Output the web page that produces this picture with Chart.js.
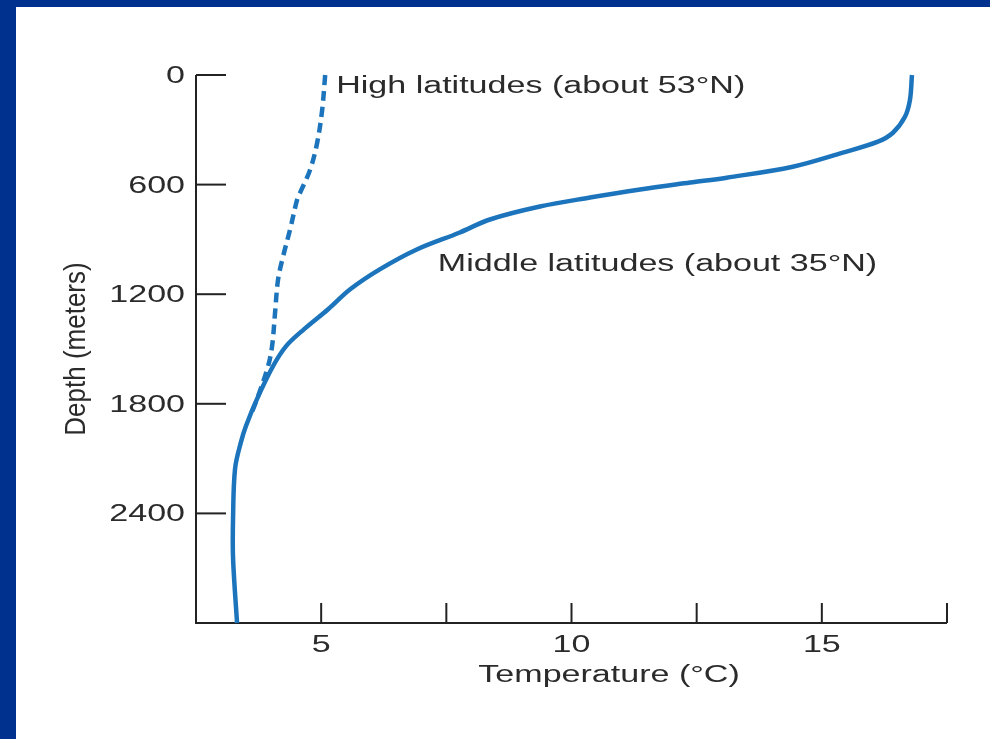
<!DOCTYPE html>
<html>
<head>
<meta charset="utf-8">
<script src="https://cdn.jsdelivr.net/npm/chart.js@4.4.1/dist/chart.umd.min.js"></script>
<style>
  html, body { margin: 0; padding: 0; background: #01318f; overflow: hidden; }
  #wrap { position: absolute; left: 16px; top: 7px; width: 974px; height: 732px; background: #fff; }
</style>
</head>
<body>
<div id="wrap"><canvas id="chart" width="974" height="732"></canvas></div>
<script>
// depth in meters, temperature in °C
const middleTemp  = [16.80, 16.76, 16.66, 16.42, 16.12, 15.42, 14.42, 13.10, 12.37, 11.37, 10.37, 9.37, 8.37, 7.77, 6.91, 6.17, 5.58, 5.14, 4.66, 4.30, 4.04, 3.72, 3.50, 3.40, 3.28, 3.24, 3.24, 3.32];
const middleDepth = [0, 136, 229, 316, 365, 425, 502, 562, 589, 627, 671, 720, 791, 862, 955, 1064, 1173, 1282, 1391, 1484, 1593, 1773, 1920, 2007, 2155, 2427, 2645, 3000];

const highTemp  = [5.08, 5.02, 4.92, 4.78, 4.58, 4.52, 4.38, 4.24, 4.14, 4.08, 4.02, 3.94, 3.72, 3.58];
const highDepth = [0, 191, 371, 518, 644, 682, 845, 993, 1118, 1298, 1484, 1593, 1773, 1871];

const depthTicks = [0, 600, 1200, 1800, 2400];
const tempTicks = [2.5, 5, 7.5, 10, 12.5, 15, 17.5];
const tempLabels = [5, 10, 15];

const labelHigh = 'High latitudes (about 53°N)';
const labelMiddle = 'Middle latitudes (about 35°N)';
const xTitle = 'Temperature (°C)';
const yTitle = 'Depth (meters)';

const lineColor = '#1c75bc';
const inkColor = '#2b2b2b';
const FONT = 'Liberation Sans, Arial, sans-serif';
const SX = 1.48; // the source figure is stretched sideways

function toPoints(xs, ys) {
    return xs.map((x, i) => ({ x: x, y: ys[i] }));
}

function wideText(ctx, text, x, y, align) {
    ctx.save();
    ctx.translate(x, y);
    ctx.scale(SX, 1);
    ctx.textAlign = align;
    ctx.textBaseline = 'alphabetic';
    ctx.fillText(text, 0, 0);
    ctx.restore();
}

const axesPlugin = {
    id: 'oldAxes',
    beforeDatasetsDraw(chart) {
        const ctx = chart.ctx;
        const xs = chart.scales.x;
        const ys = chart.scales.y;
        const top = ys.getPixelForValue(0);
        const bottom = ys.bottom;
        ctx.save();
        ctx.strokeStyle = '#222';
        ctx.lineWidth = 2;
        ctx.beginPath();
        ctx.moveTo(xs.left, top);
        ctx.lineTo(xs.left, bottom);
        ctx.lineTo(xs.right, bottom);
        ctx.stroke();
        // y ticks point inward
        ys.ticks.forEach(t => {
            const y = ys.getPixelForValue(t.value);
            ctx.beginPath();
            ctx.moveTo(xs.left, y);
            ctx.lineTo(xs.left + 30, y);
            ctx.stroke();
        });
        // x ticks point upward
        xs.ticks.forEach(t => {
            if (t.value === xs.min) return;
            const x = xs.getPixelForValue(t.value);
            ctx.beginPath();
            ctx.moveTo(x, bottom);
            ctx.lineTo(x, bottom - 20);
            ctx.stroke();
        });
        ctx.restore();
    },
    afterDraw(chart) {
        const ctx = chart.ctx;
        const xs = chart.scales.x;
        const ys = chart.scales.y;
        ctx.save();
        ctx.fillStyle = inkColor;
        ctx.font = '23px ' + FONT;

        ys.ticks.forEach(t => {
            wideText(ctx, String(t.value), xs.left - 11, ys.getPixelForValue(t.value) + 8, 'right');
        });
        xs.ticks.forEach(t => {
            if (tempLabels.includes(t.value)) {
                wideText(ctx, String(t.value), xs.getPixelForValue(t.value), ys.bottom + 29, 'center');
            }
        });

        wideText(ctx, xTitle, xs.getPixelForValue(10.75), ys.bottom + 59, 'center');

        wideText(ctx, labelHigh, xs.getPixelForValue(5.3), ys.getPixelForValue(98), 'left');
        wideText(ctx, labelMiddle, xs.getPixelForValue(7.33), ys.getPixelForValue(1075), 'left');

        // rotated y title
        ctx.save();
        ctx.translate(61, (ys.top + ys.bottom) / 2);
        ctx.scale(1.15, 1);
        ctx.rotate(-Math.PI / 2);
        ctx.font = '26px ' + FONT;
        ctx.textAlign = 'center';
        ctx.textBaseline = 'middle';
        ctx.fillText(yTitle, 0, 0);
        ctx.restore();

        ctx.restore();
    }
};

new Chart(document.getElementById('chart'), {
    type: 'scatter',
    data: {
        datasets: [
            {
                label: labelMiddle,
                data: toPoints(middleTemp, middleDepth),
                showLine: true,
                borderColor: lineColor,
                borderWidth: 4.5,
                pointRadius: 0,
                tension: 0.35,
                clip: false
            },
            {
                label: labelHigh,
                data: toPoints(highTemp, highDepth),
                showLine: true,
                borderColor: lineColor,
                borderWidth: 4.5,
                borderDash: [10, 6],
                pointRadius: 0,
                tension: 0.35,
                clip: false
            }
        ]
    },
    options: {
        responsive: false,
        animation: false,
        devicePixelRatio: 1,
        layout: { padding: { top: 68, right: 43, left: 0, bottom: 0 } },
        plugins: {
            legend: { display: false },
            tooltip: { enabled: false }
        },
        scales: {
            x: {
                type: 'linear',
                min: 2.5,
                max: 17.5,
                grid: { display: false },
                border: { display: false },
                ticks: { display: false },
                afterBuildTicks: (scale) => {
                    scale.ticks = tempTicks.map(v => ({ value: v }));
                },
                afterFit: (scale) => { scale.height = 116; }
            },
            y: {
                type: 'linear',
                reverse: true,
                min: 0,
                max: 3000,
                grid: { display: false },
                border: { display: false },
                ticks: { display: false },
                afterBuildTicks: (scale) => {
                    scale.ticks = depthTicks.map(v => ({ value: v }));
                },
                afterFit: (scale) => { scale.width = 180; }
            }
        }
    },
    plugins: [axesPlugin]
});
</script>
</body>
</html>
